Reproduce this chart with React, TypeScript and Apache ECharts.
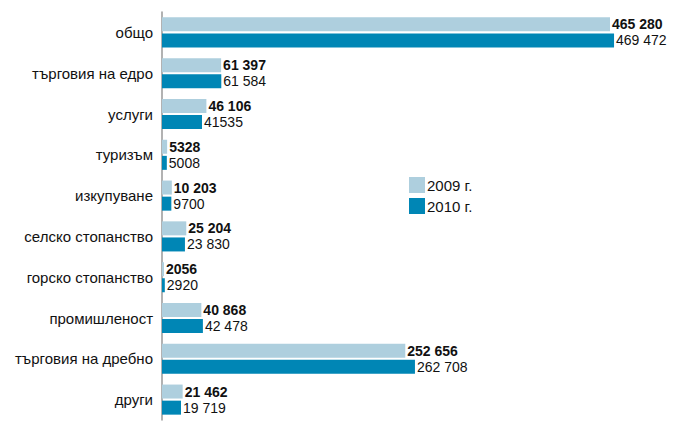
import React, { useEffect, useRef } from "react";
import * as echarts from "echarts";

const categories = [
  "общо",
  "търговия на едро",
  "услуги",
  "туризъм",
  "изкупуване",
  "селско стопанство",
  "горско стопанство",
  "промишленост",
  "търговия на дребно",
  "други",
];
const values2009 = [465280, 61397, 46106, 5328, 10203, 25204, 2056, 40868, 252656, 21462];
const values2010 = [469472, 61584, 41535, 5008, 9700, 23830, 2920, 42478, 262708, 19719];
const labels2009 = ["465 280", "61 397", "46 106", "5328", "10 203", "25 204", "2056", "40 868", "252 656", "21 462"];
const labels2010 = ["469 472", "61 584", "41535", "5008", "9700", "23 830", "2920", "42 478", "262 708", "19 719"];
const seriesNames = ["2009 г.", "2010 г."];

const FONT = "'Liberation Sans Narrow', 'Liberation Sans', Arial, sans-serif";

export default function App() {
  const ref = useRef<HTMLDivElement>(null);
  useEffect(() => {
    if (!ref.current) return;
    const chart = echarts.init(ref.current, null, { renderer: "svg" });
    chart.setOption({
      animation: false,
      textStyle: { fontFamily: FONT },
      legend: {
        orient: "vertical",
        left: 401,
        top: 169,
        padding: 0,
        itemWidth: 16,
        itemHeight: 16,
        itemGap: 5,
        icon: "rect",
        textStyle: { fontFamily: FONT, fontSize: 15, color: "#111", padding: [0, 0, 0, -3] },
        data: seriesNames,
      },
      grid: { left: 154, top: 4, width: 493, height: 408, containLabel: false },
      xAxis: {
        type: "value",
        min: 0,
        max: 512000,
        show: false,
      },
      yAxis: {
        type: "category",
        inverse: true,
        data: categories,
        axisLine: { show: true, lineStyle: { color: "#999", width: 1.5 } },
        axisTick: { show: false },
        axisLabel: { fontFamily: FONT, fontSize: 15, color: "#111", margin: 9 },
      },
      series: [
        {
          name: seriesNames[0],
          type: "bar",
          data: values2009,
          barWidth: 14,
          barGap: "15%",
          itemStyle: { color: "#AECFDE" },
          label: {
            show: true,
            position: "right",
            distance: 2,
            fontFamily: FONT,
            fontSize: 14,
            lineHeight: 15,
            fontWeight: "bold",
            color: "#111",
            formatter: (p: any) => labels2009[p.dataIndex],
          },
        },
        {
          name: seriesNames[1],
          type: "bar",
          data: values2010,
          barWidth: 14,
          itemStyle: { color: "#0086B5" },
          label: {
            show: true,
            position: "right",
            distance: 2,
            fontFamily: FONT,
            fontSize: 14,
            lineHeight: 15,
            color: "#111",
            formatter: (p: any) => labels2010[p.dataIndex],
          },
        },
      ],
    });
    return () => chart.dispose();
  }, []);
  return <div ref={ref} style={{ width: 667, height: 414 }} />;
}
